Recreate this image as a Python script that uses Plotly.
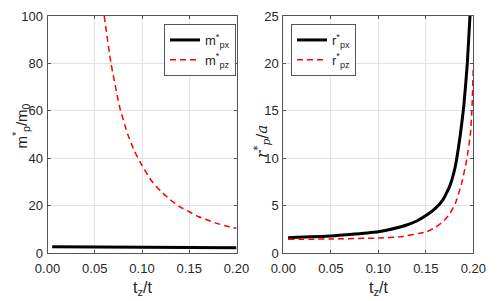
import plotly.graph_objects as go

# ---- data ----
mpx_x = [0.005, 0.05, 0.10, 0.15, 0.20]
mpx_y = [2.65, 2.5, 2.4, 2.3, 2.2]

mpz_x = [0.060, 0.0672, 0.0767, 0.085, 0.092, 0.100, 0.110, 0.120, 0.130, 0.140, 0.151,
         0.160, 0.170, 0.180, 0.190, 0.200]
mpz_y = [100, 80, 61, 50, 43, 37, 30.5, 26, 22.5, 19.5, 17.2, 15.3, 13.8, 12.4, 11.3, 10.4]

rpx_x = [0.005, 0.05, 0.10, 0.123, 0.13, 0.14, 0.151, 0.16, 0.168, 0.175, 0.181, 0.1865,
         0.19, 0.1937, 0.1965]
rpx_y = [1.62, 1.79, 2.25, 2.75, 2.95, 3.35, 4.0, 4.7, 5.6, 7.0, 9.1, 12.6, 15.5, 20.0, 25.0]

rpz_x = [0.005, 0.05, 0.10, 0.123, 0.151, 0.16, 0.168, 0.175, 0.181, 0.1877, 0.193, 0.197,
         0.1985, 0.2]
rpz_y = [1.44, 1.48, 1.58, 1.7, 2.25, 2.7, 3.3, 4.1, 5.2, 7.35, 9.8, 12.6, 15.0, 19.7]

xticks = [0, 0.05, 0.10, 0.15, 0.20]
m_yticks = [0, 20, 40, 60, 80, 100]
r_yticks = [0, 5, 10, 15, 20, 25]

# page body has an 8px margin: figure is drawn 8px right/down of the window corner
OFF = 8
W, H = 498 - OFF, 301 - OFF
FONT = "Liberation Sans, Arial, sans-serif"
TXT = "#262626"
AX = "#555555"
GRID = "#e3e3e3"

def px(sx):
    return (sx - OFF) / W

def py(sy):
    return (H - (sy - OFF)) / H

fig = go.Figure()
fig.add_trace(go.Scatter(x=mpx_x, y=mpx_y, mode="lines", name="m<sup>*</sup><sub>px</sub>",
                         line=dict(color="black", width=3), xaxis="x", yaxis="y", legend="legend"))
fig.add_trace(go.Scatter(x=mpz_x, y=mpz_y, mode="lines", name="m<sup>*</sup><sub>pz</sub>",
                         line=dict(color="red", width=1.5, dash="6px,4px", shape="spline", smoothing=0.4),
                         xaxis="x", yaxis="y", legend="legend"))
fig.add_trace(go.Scatter(x=rpx_x, y=rpx_y, mode="lines", name="r<sup>*</sup><sub>px</sub>",
                         line=dict(color="black", width=3, shape="spline", smoothing=0.4),
                         xaxis="x2", yaxis="y2", legend="legend2"))
fig.add_trace(go.Scatter(x=rpz_x, y=rpz_y, mode="lines", name="r<sup>*</sup><sub>pz</sub>",
                         line=dict(color="red", width=1.5, dash="6px,4px", shape="spline", smoothing=0.4),
                         xaxis="x2", yaxis="y2", legend="legend2"))

def ax(**kw):
    d = dict(showline=True, linecolor=AX, linewidth=1, mirror="allticks", ticks="inside",
             ticklen=3, tickcolor=AX, showgrid=True, gridcolor=GRID, gridwidth=1, zeroline=False,
             automargin=False, tickfont=dict(family=FONT, size=13, color=TXT))
    d.update(kw)
    return d

fig.update_layout(
    width=W, height=H, margin=dict(l=0, r=0, t=0, b=0),
    paper_bgcolor="white", plot_bgcolor="white",
    font=dict(family=FONT, size=13, color=TXT),
    xaxis=ax(domain=[px(47.5), px(236.5)], range=[0, 0.2], tickvals=xticks, tickformat=".2f",
             anchor="y", ticklabelstandoff=3),
    yaxis=ax(domain=[py(253), py(16)], range=[0, 100], tickvals=m_yticks, anchor="x",
             ticklabelstandoff=1),
    xaxis2=ax(domain=[px(283.3), px(473.3)], range=[0, 0.2], tickvals=xticks, tickformat=".2f",
              anchor="y2", ticklabelstandoff=3),
    yaxis2=ax(domain=[py(253), py(16)], range=[0, 25], tickvals=r_yticks, anchor="x2",
              ticklabelstandoff=1),
    legend=dict(x=px(164), y=py(24), xanchor="left", yanchor="top", bgcolor="white",
                bordercolor=AX, borderwidth=1, font=dict(size=13, color=TXT), itemwidth=30,
                tracegroupgap=0),
    legend2=dict(x=px(291), y=py(24), xanchor="left", yanchor="top", bgcolor="white",
                 bordercolor=AX, borderwidth=1, font=dict(size=13, color=TXT), itemwidth=30,
                 tracegroupgap=0),
)

TITLE_FONT = dict(family=FONT, size=16, color=TXT)
fig.add_annotation(text="t<sub>z</sub>/t", x=px(142), y=py(277), xref="paper", yref="paper",
                   showarrow=False, xanchor="center", yanchor="top", font=TITLE_FONT)
fig.add_annotation(text="t<sub>z</sub>/t", x=px(378.3), y=py(277), xref="paper", yref="paper",
                   showarrow=False, xanchor="center", yanchor="top", font=TITLE_FONT)
fig.add_annotation(text="m<sup>*</sup><sub>p</sub>/m<sub>0</sub>", x=px(8), y=py(126),
                   xref="paper", yref="paper", showarrow=False, textangle=-90,
                   xanchor="left", yanchor="middle", font=dict(family=FONT, size=15, color=TXT))
fig.add_annotation(text="<i>r</i><sup>*</sup><sub><i>p</i></sub>/<i>a</i>", x=px(261), y=py(142),
                   xref="paper", yref="paper", showarrow=False, textangle=-90,
                   xanchor="center", yanchor="middle",
                   font=dict(family="DejaVu Serif, serif", size=15, color=TXT))

fig.write_html("out.html")
